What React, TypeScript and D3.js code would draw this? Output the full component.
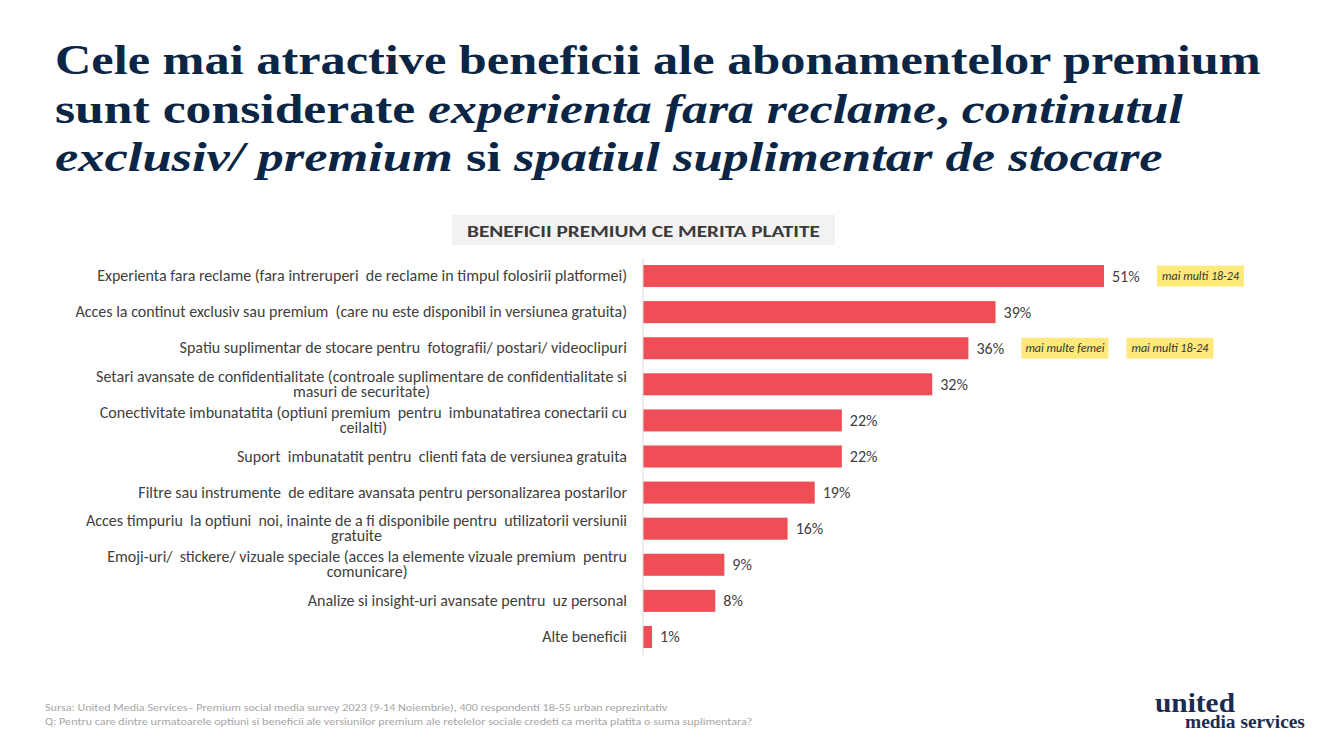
import React from "react";
import * as d3 from "d3";

const categories: string[] = [
  "Experienta fara reclame (fara intreruperi  de reclame in timpul folosirii platformei)",
  "Acces la continut exclusiv sau premium  (care nu este disponibil in versiunea gratuita)",
  "Spatiu suplimentar de stocare pentru  fotografii/ postari/ videoclipuri",
  "Setari avansate de confidentialitate (controale suplimentare de confidentialitate si|masuri de securitate)",
  "Conectivitate imbunatatita (optiuni premium  pentru  imbunatatirea conectarii cu|ceilalti)",
  "Suport  imbunatatit pentru  clienti fata de versiunea gratuita",
  "Filtre sau instrumente  de editare avansata pentru personalizarea postarilor",
  "Acces timpuriu  la optiuni  noi, inainte de a fi disponibile pentru  utilizatorii versiunii|gratuite",
  "Emoji-uri/  stickere/ vizuale speciale (acces la elemente vizuale premium  pentru|comunicare)",
  "Analize si insight-uri avansate pentru  uz personal",
  "Alte beneficii",
];
const values: number[] = [51, 39, 36, 32, 22, 22, 19, 16, 9, 8, 1];
const tagRows: number[] = [0, 2, 2];
const tagOrder: number[] = [0, 0, 1];
const tagTexts: string[] = ["mai multi 18-24", "mai multe femei", "mai multi 18-24"];

const titleLines: { t: string; i: boolean }[][] = [
  [{ t: "Cele mai atractive beneficii ale abonamentelor premium", i: false }],
  [
    { t: "sunt considerate ", i: false },
    { t: "experienta fara reclame", i: true },
    { t: ", ", i: false },
    { t: "continutul", i: true },
  ],
  [
    { t: "exclusiv/ premium", i: true },
    { t: " si ", i: false },
    { t: "spatiul suplimentar de stocare", i: true },
  ],
];
const chartTitle = "BENEFICII PREMIUM CE MERITA PLATITE";
const footerLines: string[] = [
  "Sursa: United Media Services\u2013 Premium social media survey 2023 (9-14 Noiembrie), 400 respondenti 18-55 urban reprezintativ",
  "Q: Pentru care dintre urmatoarele optiuni si beneficii ale versiunilor premium ale retelelor sociale credeti ca merita platita o suma suplimentara?",
];

let ctx: CanvasRenderingContext2D | null = null;
function measure(text: string, font: string): number {
  if (!ctx) ctx = document.createElement("canvas").getContext("2d");
  if (!ctx) return text.length * 7;
  ctx.font = font;
  return ctx.measureText(text).width;
}

const NAVY = "#0b2545";
const SERIF = "Liberation Serif";
const SANS = "Carlito, Lato, 'Open Sans', sans-serif";

function FitText(props: {
  x: number; y: number; width: number; segs: { t: string; i: boolean }[];
  size: number; weight: string | number; family: string; fill: string;
}) {
  const { x, y, width, segs, size, weight, family, fill } = props;
  const fam = family.includes(",") || family.includes("'") ? family : `"${family}"`;
  const nat = segs.reduce(
    (s, g) => s + measure(g.t, `${g.i ? "italic " : ""}${weight} ${size}px ${fam}`),
    0
  );
  const sc = nat > 0 ? width / nat : 1;
  return (
    <text
      transform={`translate(${x},${y}) scale(${sc},1)`}
      fontFamily={family}
      fontSize={size}
      fontWeight={weight}
      fill={fill}
      style={{ whiteSpace: "pre" }}
    >
      {segs.map((g, k) => (
        <tspan key={k} fontStyle={g.i ? "italic" : "normal"}>
          {g.t}
        </tspan>
      ))}
    </text>
  );
}

export default function App() {
  const W = 1344, H = 756;
  const x0 = 643;
  const x = d3.scaleLinear().domain([0, 51]).range([x0, 1104]);
  const y = d3
    .scaleBand<string>()
    .domain(categories)
    .range([258, 655])
    .paddingInner(0.39)
    .paddingOuter(0.195);
  const bw = y.bandwidth();
  const labelFont = 16;
  const labelX = 627;

  return (
    <svg width={W} height={H} style={{ position: "absolute", left: 0, top: 0, background: "#fff" }}>
      <rect width={W} height={H} fill="#fff" />
      {titleLines.map((segs, k) => (
        <FitText
          key={k}
          x={55}
          y={[74, 123, 171][k]}
          width={[1207, 1128, 1108][k]}
          segs={segs}
          size={42}
          weight="bold"
          family={SERIF}
          fill={NAVY}
        />
      ))}

      <rect x={452} y={215} width={383} height={30} fill="#f2f2f2" />
      <FitText
        x={467}
        y={237}
        width={353}
        segs={[{ t: chartTitle, i: false }]}
        size={16}
        weight="bold"
        family={SANS}
        fill="#3a3a3a"
      />

      {categories.map((c, k) => {
        const cy = (y(c) as number) + bw / 2;
        const lines = c.split("|");
        const f = `${labelFont}px ${SANS}`;
        if (lines.length === 1) {
          return (
            <text key={c} x={labelX} y={cy + 5} textAnchor="end" fontFamily={SANS} fontSize={labelFont} fill="#404040" style={{ whiteSpace: "pre" }}>
              {lines[0]}
            </text>
          );
        }
        const w1 = measure(lines[0], f);
        const cx = labelX - w1 / 2;
        return (
          <g key={c}>
            {lines.map((ln, j) => (
              <text key={j} x={cx} y={cy - 7.5 + j * 15 + 5} textAnchor="middle" fontFamily={SANS} fontSize={labelFont} fill="#404040" style={{ whiteSpace: "pre" }}>
                {ln}
              </text>
            ))}
          </g>
        );
      })}

      {categories.map((c, k) => (
        <rect key={c} x={x(0)} y={y(c)} width={x(values[k]) - x(0)} height={bw} fill="#f04e56" />
      ))}

      {categories.map((c, k) => (
        <text key={c} x={x(values[k]) + 8} y={(y(c) as number) + bw / 2 + 5.5} fontFamily={SANS} fontSize={16} fill="#404040">
          {values[k]}%
        </text>
      ))}

      <line x1={x0} x2={x0} y1={258} y2={655} stroke="#d9d9d9" strokeWidth={1} />

      {tagTexts.map((t, k) => {
        const row = tagRows[k];
        const c = categories[row];
        const cy = (y(c) as number) + bw / 2;
        const tx = x(values[row]) + 53 + tagOrder[k] * 105;
        return (
          <g key={k}>
            <rect x={tx} y={cy - 10.5} width={87} height={21} fill="#ffe97a" />
            <text x={tx + 43.5} y={cy + 4} textAnchor="middle" fontFamily={SANS} fontStyle="italic" fontSize={12} fill="#333">
              {t}
            </text>
          </g>
        );
      })}

      {footerLines.map((t, k) => (
        <FitText
          key={k}
          x={45}
          y={[711, 725][k]}
          width={[623, 708][k]}
          segs={[{ t, i: false }]}
          size={10}
          weight={300}
          family={SANS}
          fill="#a6a6a6"
        />
      ))}

      <FitText x={1155} y={712} width={80} segs={[{ t: "united", i: false }]} size={27} weight="bold" family={SERIF} fill="#1c2b4f" />
      <FitText x={1185} y={728} width={120} segs={[{ t: "media services", i: false }]} size={18} weight="bold" family={SERIF} fill="#1c2b4f" />
    </svg>
  );
}
